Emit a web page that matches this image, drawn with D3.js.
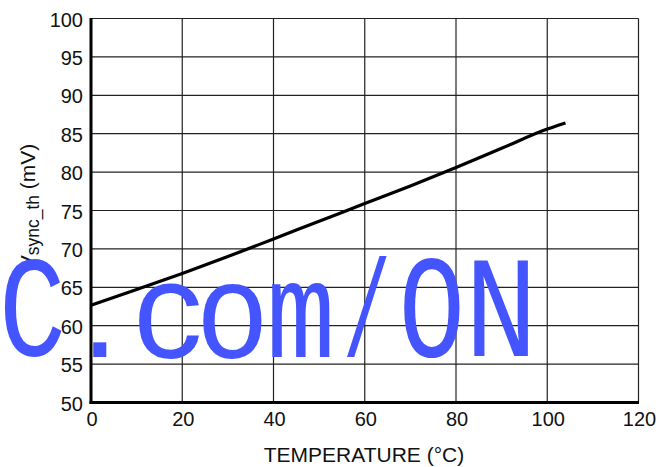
<!DOCTYPE html>
<html>
<head>
<meta charset="utf-8">
<script src="https://cdn.jsdelivr.net/npm/d3@7"></script>
<style>
  html, body { margin: 0; padding: 0; background: #fff; }
  svg { display: block; }
</style>
</head>
<body>
<svg id="chart" width="669" height="467"></svg>
<script>
// Data
const temperature = [0, 10, 20, 30, 40, 50, 60, 70, 80, 90, 100, 104];
const vSyncTh     = [62.65, 64.7, 66.8, 69.0, 71.3, 73.6, 75.9, 78.2, 80.6, 83.1, 85.6, 86.4];
const xTicks = [0, 20, 40, 60, 80, 100, 120];
const yTicks = [50, 55, 60, 65, 70, 75, 80, 85, 90, 95, 100];
const xTitle = "TEMPERATURE (\u00B0C)";
const yTitleMain = "V";
const yTitleSub = "sync_th";
const yTitleUnit = " (mV)";
const watermark = "C.com/ON";

const svg = d3.select("#chart");
const L = 91, R = 638.5, T = 18.5, B = 402.5;
const font = "'Liberation Sans', Arial, Helvetica, sans-serif";

const x = d3.scaleLinear().domain([0, 120]).range([L, R]);
const y = d3.scaleLinear().domain([50, 100]).range([B, T]);

// grid
const grid = svg.append("g");
grid.selectAll("line.h").data(yTicks).join("line")
  .attr("x1", L).attr("x2", R)
  .attr("y1", d => y(d)).attr("y2", d => y(d))
  .attr("stroke", "#222").attr("stroke-width", 1.2);
grid.selectAll("line.v").data(xTicks).join("line")
  .attr("y1", T).attr("y2", B)
  .attr("x1", d => x(d)).attr("x2", d => x(d))
  .attr("stroke", "#222").attr("stroke-width", 1.2);

// axes (thick)
svg.append("line").attr("x1", L).attr("x2", L).attr("y1", T - 0.5).attr("y2", B + 1.5)
  .attr("stroke", "#000").attr("stroke-width", 3);
svg.append("line").attr("x1", L - 1.5).attr("x2", R + 0.5).attr("y1", B).attr("y2", B)
  .attr("stroke", "#000").attr("stroke-width", 3);

// tick labels
svg.append("g").selectAll("text").data(yTicks).join("text")
  .attr("x", L - 8).attr("y", d => y(d) + 8)
  .attr("text-anchor", "end")
  .attr("font-family", font).attr("font-size", 20).attr("fill", "#111")
  .text(d => d);
svg.append("g").selectAll("text").data(xTicks).join("text")
  .attr("x", d => x(d) + 1).attr("y", B + 23)
  .attr("text-anchor", "middle")
  .attr("font-family", font).attr("font-size", 20).attr("fill", "#111")
  .text(d => d);

// titles
svg.append("text")
  .attr("x", 364).attr("y", 462)
  .attr("text-anchor", "middle")
  .attr("font-family", font).attr("font-size", 21).attr("fill", "#111")
  .text(xTitle);

const yt = svg.append("text")
  .attr("transform", "translate(34.5,206.5) rotate(-90)")
  .attr("text-anchor", "middle")
  .attr("font-family", font).attr("font-size", 21).attr("fill", "#111");
yt.append("tspan").text(yTitleMain);
yt.append("tspan").attr("font-size", 17.5).attr("dy", 4.5).text(yTitleSub);
yt.append("tspan").attr("dy", -4.5).text(yTitleUnit);

// curve
const pts = temperature.map((t, i) => [t, vSyncTh[i]]);
svg.append("path")
  .datum(pts)
  .attr("fill", "none").attr("stroke", "#000").attr("stroke-width", 3.2)
  .attr("d", d3.line().x(d => x(d[0])).y(d => y(d[1])).curve(d3.curveMonotoneX));

// watermark: each glyph fitted to its ink box (left, right, top, bottom)
const wmFont = "'Liberation Mono', 'DejaVu Sans Mono', monospace";
const wmSize = 146;
const wmBoxes = [
  [5, 62, 258, 357],    // C
  [93, 107, 342, 357],  // .
  [139, 199, 283, 359], // c
  [203, 262, 283, 359], // o
  [272, 330, 283, 357], // m
  [347, 387, 257, 358], // /
  [404, 460, 257, 358], // O
  [474, 528, 260, 356]  // N
];
const ctx = document.createElement("canvas").getContext("2d");
ctx.font = `${wmSize}px ${wmFont}`;
const wm = svg.append("g");
watermark.split("").forEach((ch, i) => {
  const m = ctx.measureText(ch);
  const [l, r, t, b] = wmBoxes[i];
  const inkW = m.actualBoundingBoxLeft + m.actualBoundingBoxRight;
  const inkH = m.actualBoundingBoxAscent + m.actualBoundingBoxDescent;
  const sx = (r - l) / inkW, sy = (b - t) / inkH;
  const tx = l + m.actualBoundingBoxLeft * sx;
  const ty = t + m.actualBoundingBoxAscent * sy;
  wm.append("text")
    .attr("transform", `translate(${tx},${ty}) scale(${sx},${sy})`)
    .attr("font-family", wmFont)
    .attr("font-size", wmSize)
    .attr("fill", "#4455ff")
    .text(ch);
});
</script>
</body>
</html>
